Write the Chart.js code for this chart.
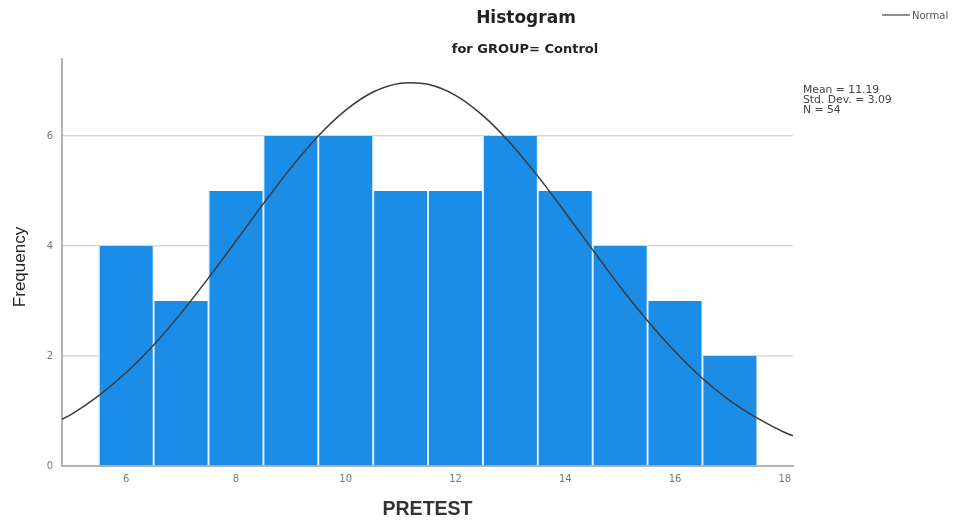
<!DOCTYPE html>
<html>
<head>
<meta charset="utf-8">
<script src="https://cdn.jsdelivr.net/npm/chart.js@4/dist/chart.umd.min.js"></script>
<style>
  html, body { margin: 0; padding: 0; background: #ffffff; }
  canvas { display: block; }
</style>
</head>
<body>
<canvas id="hist" width="957" height="522"></canvas>
<script>
// PRETEST score bins (bin centres) and their frequencies
const binCenters = [6, 7, 8, 9, 10, 11, 12, 13, 14, 15, 16, 17];
const frequencies = [4, 3, 5, 6, 6, 5, 5, 6, 5, 4, 3, 2];

// Fitted normal curve, sampled along the PRETEST axis
const curveX = [4.83, 5, 5.5, 6, 6.5, 7, 7.5, 8, 8.5, 9, 9.5, 10, 10.5, 11, 11.19, 11.5, 12, 12.5, 13, 13.5, 14, 14.5, 15, 15.5, 16, 16.5, 17, 17.5, 18, 18.15];
const curveY = [0.85, 0.94, 1.28, 1.70, 2.20, 2.78, 3.42, 4.09, 4.77, 5.42, 6.00, 6.47, 6.80, 6.96, 6.97, 6.94, 6.74, 6.37, 5.87, 5.27, 4.61, 3.93, 3.26, 2.64, 2.08, 1.59, 1.19, 0.87, 0.61, 0.55];

// Axis tick labels
const xTicks = [6, 8, 10, 12, 14, 16, 18];
const yTicks = [0, 2, 4, 6];

// Summary statistics
const statLines = ['Mean = 11.19', 'Std. Dev. = 3.09', 'N = 54'];

const titleText = 'Histogram';
const subtitleText = 'for GROUP= Control';
const xTitle = 'PRETEST';
const yTitle = 'Frequency';
const legendLabel = 'Normal';

const barData = binCenters.map((x, i) => ({ x: x, y: frequencies[i] }));
const curveData = curveX.map((x, i) => ({ x: x, y: curveY[i] }));

// Titles, axis titles, legend and statistics box
const annotations = {
  id: 'annotations',
  afterDraw(chart) {
    const ctx = chart.ctx;
    ctx.save();
    ctx.textBaseline = 'middle';

    ctx.fillStyle = '#222222';
    ctx.textAlign = 'center';
    ctx.font = 'bold 17px "DejaVu Sans"';
    ctx.fillText(titleText, 526, 19);
    ctx.font = 'bold 13px "DejaVu Sans"';
    ctx.fillText(subtitleText, 525, 50);

    // x axis title
    ctx.font = 'bold 19.5px "Liberation Sans"';
    ctx.fillStyle = '#333333';
    ctx.fillText(xTitle, (chart.chartArea.left + chart.chartArea.right) / 2, 510);

    // y axis title
    ctx.save();
    ctx.translate(20, 267);
    ctx.rotate(-Math.PI / 2);
    ctx.font = '17px "Liberation Sans"';
    ctx.fillStyle = '#222222';
    ctx.fillText(yTitle, 0, 0);
    ctx.restore();

    // legend
    ctx.strokeStyle = '#444444';
    ctx.lineWidth = 1.2;
    ctx.beginPath();
    ctx.moveTo(882, 15);
    ctx.lineTo(910, 15);
    ctx.stroke();
    ctx.textAlign = 'left';
    ctx.font = '10px "DejaVu Sans"';
    ctx.fillStyle = '#555555';
    ctx.fillText(legendLabel, 912, 16);

    // statistics
    ctx.font = '10.8px "DejaVu Sans"';
    ctx.fillStyle = '#444444';
    statLines.forEach((t, i) => ctx.fillText(t, 803, 90 + i * 10));

    ctx.restore();
  }
};

new Chart(document.getElementById('hist'), {
  type: 'bar',
  data: {
    datasets: [
      {
        type: 'line',
        label: legendLabel,
        data: curveData,
        borderColor: '#3a3a3a',
        borderWidth: 1.5,
        pointRadius: 0,
        fill: false,
        cubicInterpolationMode: 'monotone',
        order: 0
      },
      {
        type: 'bar',
        label: 'Frequency',
        data: barData,
        backgroundColor: 'rgb(28, 141, 230)',
        borderColor: 'rgb(222, 242, 255)',
        borderWidth: { left: 1.3, right: 1.3, top: 0, bottom: 0 },
        borderSkipped: false,
        categoryPercentage: 1.0,
        barPercentage: 1.0,
        order: 1
      }
    ]
  },
  options: {
    responsive: false,
    animation: false,
    events: [],
    layout: { padding: { left: 0, top: 59, right: 164, bottom: 0 } },
    plugins: {
      legend: { display: false },
      title: { display: false },
      tooltip: { enabled: false }
    },
    scales: {
      x: {
        type: 'linear',
        offset: false,
        min: 4.83,
        max: 18.15,
        afterBuildTicks(scale) { scale.ticks = xTicks.map(v => ({ value: v })); },
        afterFit(scale) { scale.height = 56; },
        grid: { display: false, drawTicks: false, offset: false },
        border: { display: true, color: '#b3b3b3', width: 2 },
        ticks: {
          padding: 7,
          color: '#777777',
          font: { family: '"DejaVu Sans"', size: 10 },
          maxRotation: 0,
          autoSkip: false
        }
      },
      y: {
        type: 'linear',
        min: 0,
        max: 7.4,
        afterBuildTicks(scale) { scale.ticks = yTicks.map(v => ({ value: v })); },
        afterFit(scale) { scale.width = 62; },
        grid: {
          drawTicks: false,
          color: ctx => ctx.tick && ctx.tick.value === 0 ? 'rgba(0,0,0,0)' : '#d9d9d9',
          lineWidth: 1.5
        },
        border: { display: true, color: '#b3b3b3', width: 2 },
        ticks: {
          padding: 9,
          color: '#777777',
          font: { family: '"DejaVu Sans"', size: 10 },
          autoSkip: false
        }
      }
    }
  },
  plugins: [annotations]
});
</script>
</body>
</html>
